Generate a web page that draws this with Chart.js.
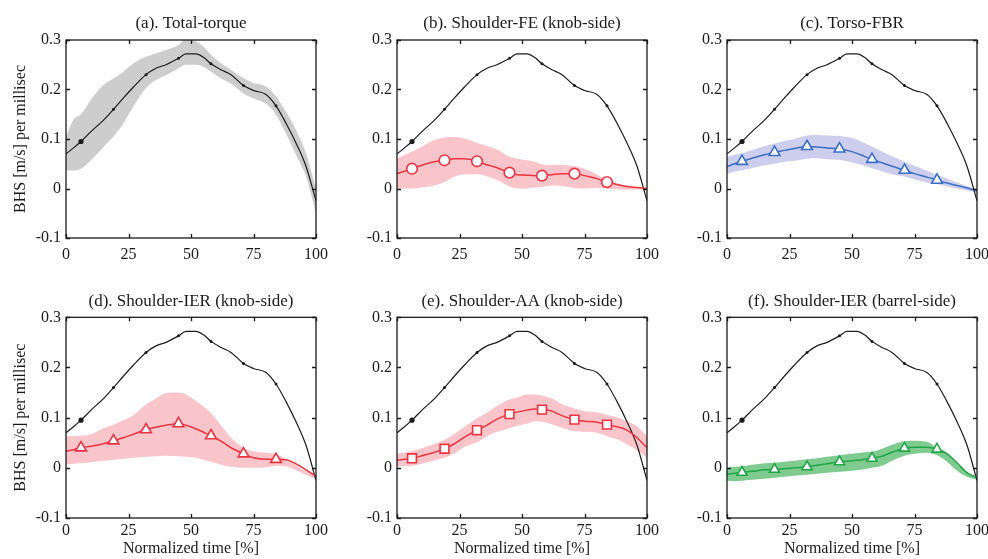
<!DOCTYPE html>
<html>
<head>
<meta charset="utf-8">
<script src="https://cdn.jsdelivr.net/npm/chart.js@4/dist/chart.umd.min.js"></script>
<style>
  html, body { margin: 0; padding: 0; background: #fff; overflow: hidden; width: 988px; height: 559px; }
  .cell { position: absolute; }
</style>
</head>
<body>
<div class="cell" style="left:0px;top:0px"><canvas id="c0" width="328" height="280"></canvas></div>
<div class="cell" style="left:331px;top:0px"><canvas id="c1" width="328" height="280"></canvas></div>
<div class="cell" style="left:661px;top:0px"><canvas id="c2" width="328" height="280"></canvas></div>
<div class="cell" style="left:0px;top:280px"><canvas id="c3" width="328" height="279"></canvas></div>
<div class="cell" style="left:331px;top:280px"><canvas id="c4" width="328" height="279"></canvas></div>
<div class="cell" style="left:661px;top:280px"><canvas id="c5" width="328" height="279"></canvas></div>
<script>
// ---------------- data ----------------
const time = [0,3,6,10,15,19,23,27,32,36,40,45,48,52,55,58,62,66,71,75,80,84,88,92,96,100];
const markerTimes = [6,19,32,45,58,71,84];

const totalMean  = [0.070,0.082,0.095,0.115,0.138,0.160,0.183,0.205,0.230,0.243,0.250,0.263,0.272,0.272,0.265,0.252,0.240,0.230,0.208,0.198,0.190,0.167,0.132,0.092,0.045,-0.025];
const totalUpper = [0.105,0.139,0.150,0.180,0.209,0.222,0.236,0.253,0.266,0.273,0.280,0.290,0.303,0.297,0.287,0.270,0.253,0.240,0.223,0.213,0.206,0.186,0.155,0.118,0.071,0.000];
const totalLower = [0.037,0.036,0.040,0.057,0.084,0.105,0.132,0.166,0.203,0.219,0.229,0.243,0.250,0.250,0.246,0.236,0.222,0.212,0.192,0.182,0.171,0.149,0.111,0.068,0.024,-0.050];

const feMean  = [0.030,0.035,0.040,0.047,0.054,0.057,0.060,0.060,0.055,0.048,0.042,0.032,0.028,0.027,0.026,0.026,0.028,0.030,0.030,0.026,0.020,0.013,0.008,0.004,0.002,0.000];
const feUpper = [0.060,0.068,0.074,0.085,0.098,0.103,0.104,0.101,0.092,0.086,0.079,0.064,0.060,0.057,0.054,0.049,0.047,0.048,0.045,0.040,0.028,0.017,0.010,0.006,0.003,0.001];
const feLower = [0.000,0.000,0.000,0.002,0.006,0.013,0.024,0.029,0.029,0.025,0.017,0.004,0.000,0.000,0.002,0.003,0.006,0.005,0.001,0.000,0.001,0.000,-0.002,-0.002,-0.002,-0.002];

const fbrMean  = [0.044,0.050,0.055,0.061,0.068,0.073,0.077,0.081,0.085,0.084,0.082,0.080,0.077,0.071,0.065,0.059,0.052,0.045,0.037,0.030,0.023,0.017,0.011,0.006,0.001,-0.005];
const fbrUpper = [0.064,0.068,0.071,0.078,0.086,0.091,0.096,0.100,0.107,0.108,0.107,0.106,0.104,0.099,0.092,0.085,0.075,0.065,0.054,0.046,0.036,0.028,0.020,0.012,0.005,-0.001];
const fbrLower = [0.030,0.034,0.037,0.041,0.047,0.050,0.054,0.056,0.060,0.061,0.059,0.058,0.055,0.050,0.046,0.041,0.035,0.029,0.024,0.018,0.012,0.009,0.004,0.000,-0.004,-0.008];

const ierKnobMean  = [0.033,0.036,0.040,0.043,0.048,0.054,0.060,0.067,0.076,0.081,0.085,0.088,0.085,0.078,0.071,0.064,0.053,0.040,0.028,0.020,0.017,0.017,0.016,0.008,-0.004,-0.017];
const ierKnobUpper = [0.063,0.063,0.064,0.067,0.079,0.086,0.095,0.105,0.126,0.138,0.149,0.150,0.146,0.133,0.122,0.109,0.085,0.060,0.040,0.033,0.030,0.027,0.017,0.005,-0.007,-0.013];
const ierKnobLower = [0.007,0.008,0.009,0.011,0.014,0.016,0.018,0.020,0.022,0.023,0.024,0.023,0.022,0.020,0.016,0.012,0.006,0.002,0.000,0.000,0.001,0.004,0.003,-0.005,-0.014,-0.022];

const aaMean  = [0.015,0.017,0.019,0.024,0.031,0.038,0.048,0.061,0.075,0.085,0.097,0.107,0.111,0.115,0.117,0.116,0.113,0.104,0.096,0.093,0.091,0.086,0.082,0.075,0.060,0.040];
const aaUpper = [0.028,0.030,0.033,0.039,0.048,0.056,0.068,0.082,0.099,0.110,0.123,0.136,0.140,0.146,0.146,0.144,0.138,0.127,0.118,0.113,0.111,0.106,0.101,0.093,0.083,0.063];
const aaLower = [0.003,0.003,0.004,0.008,0.015,0.020,0.029,0.042,0.051,0.063,0.072,0.079,0.084,0.088,0.093,0.092,0.087,0.080,0.073,0.072,0.070,0.063,0.057,0.047,0.035,0.020];

const ierBarrelMean  = [-0.013,-0.011,-0.009,-0.007,-0.004,-0.003,-0.002,0.000,0.002,0.005,0.008,0.012,0.013,0.015,0.017,0.019,0.023,0.031,0.039,0.041,0.041,0.037,0.028,0.010,-0.010,-0.020];
const ierBarrelUpper = [0.000,0.002,0.003,0.006,0.009,0.010,0.012,0.014,0.017,0.019,0.022,0.025,0.027,0.029,0.031,0.032,0.038,0.046,0.053,0.054,0.052,0.040,0.030,0.010,-0.008,-0.018];
const ierBarrelLower = [-0.026,-0.027,-0.026,-0.024,-0.022,-0.020,-0.018,-0.016,-0.014,-0.012,-0.010,-0.008,-0.007,-0.005,-0.003,0.000,0.004,0.014,0.024,0.028,0.030,0.025,0.012,-0.006,-0.018,-0.024];

const panelTitles = ['(a). Total-torque','(b). Shoulder-FE (knob-side)','(c). Torso-FBR',
                     '(d). Shoulder-IER (knob-side)','(e). Shoulder-AA (knob-side)','(f). Shoulder-IER (barrel-side)'];
const xTickValues = [0,25,50,75,100];
const xTickLabels = ['0','25','50','75','100'];
const yTickValues = [-0.1,0,0.1,0.2,0.3];
const yTickLabels = ['-0.1','0','0.1','0.2','0.3'];
const yAxisTitle = 'BHS [m/s] per millisec';
const xAxisTitle = 'Normalized time [%]';

// ---------------- drawing ----------------
const FONT = "'Liberation Serif', 'Times New Roman', serif";
const pts = arr => arr.map((v, i) => ({x: time[i], y: v}));
const isMarker = ctx => ctx.raw && markerTimes.includes(ctx.raw.x);

const framePlugin = {
  id: 'frame',
  afterDatasetsDraw(chart) {
    const {ctx, chartArea: {left, right, top, bottom}, scales: {x, y}} = chart;
    ctx.save();
    ctx.strokeStyle = '#1a1a1a';
    ctx.lineWidth = 1.3;
    ctx.strokeRect(left, top, right - left, bottom - top);
    ctx.beginPath();
    const L = 4;
    x.ticks.forEach(t => {
      const px = Math.round(x.getPixelForValue(t.value)) + 0.5;
      ctx.moveTo(px, bottom); ctx.lineTo(px, bottom - L);
      ctx.moveTo(px, top); ctx.lineTo(px, top + L);
    });
    y.ticks.forEach(t => {
      const py = Math.round(y.getPixelForValue(t.value)) + 0.5;
      ctx.moveTo(left, py); ctx.lineTo(left + L, py);
      ctx.moveTo(right, py); ctx.lineTo(right - L, py);
    });
    ctx.stroke();
    ctx.restore();
  }
};

function blackLine() {
  return {
    data: pts(totalMean), borderColor: '#1c1c1c', borderWidth: 1.2,
    cubicInterpolationMode: 'monotone',
    pointStyle: 'circle',
    pointRadius: c => (c.raw && c.raw.x === 6) ? 2.6 : (isMarker(c) ? 1.5 : 0),
    pointBackgroundColor: '#1c1c1c', pointBorderColor: '#1c1c1c', pointBorderWidth: 0,
    fill: false
  };
}
function meanLine(arr, color, style, radius) {
  return {
    data: pts(arr), borderColor: color, borderWidth: 1.5,
    cubicInterpolationMode: 'monotone',
    pointStyle: style,
    pointRadius: c => isMarker(c) ? radius : 0,
    pointBackgroundColor: '#ffffff', pointBorderColor: color, pointBorderWidth: 1.6,
    fill: false
  };
}
function band(upper, lower, color) {
  return [
    {data: pts(upper), borderWidth: 0, borderColor: 'rgba(0,0,0,0)', pointRadius: 0,
     cubicInterpolationMode: 'monotone', backgroundColor: color, fill: '+1'},
    {data: pts(lower), borderWidth: 0, borderColor: 'rgba(0,0,0,0)', pointRadius: 0,
     cubicInterpolationMode: 'monotone', fill: false}
  ];
}

const panels = [
  {title: panelTitles[0], row: 0, col: 0, datasets: [blackLine(), ...band(totalUpper, totalLower, '#cdcdcd')]},
  {title: panelTitles[1], row: 0, col: 1, datasets: [meanLine(feMean, '#ec3440', 'circle', 5.3), blackLine(), ...band(feUpper, feLower, '#f9c4ca')]},
  {title: panelTitles[2], row: 0, col: 2, datasets: [meanLine(fbrMean, '#3a6ec2', 'triangle', 6.2), blackLine(), ...band(fbrUpper, fbrLower, '#cdcdee')]},
  {title: panelTitles[3], row: 1, col: 0, datasets: [meanLine(ierKnobMean, '#ec3440', 'triangle', 6.2), blackLine(), ...band(ierKnobUpper, ierKnobLower, '#f9c4ca')]},
  {title: panelTitles[4], row: 1, col: 1, datasets: [meanLine(aaMean, '#ec3440', 'rect', 6.2), blackLine(), ...band(aaUpper, aaLower, '#f9c4ca')]},
  {title: panelTitles[5], row: 1, col: 2, datasets: [meanLine(ierBarrelMean, '#22a548', 'triangle', 5.8), blackLine(), ...band(ierBarrelUpper, ierBarrelLower, '#7fcb8f')]}
];

panels.forEach((p, i) => {
  const top = p.row === 0;
  const showY = p.col === 0;
  const showX = !top;
  new Chart(document.getElementById('c' + i), {
    type: 'line',
    data: {datasets: p.datasets},
    plugins: [framePlugin],
    options: {
      responsive: false,
      animation: false,
      devicePixelRatio: 1,
      layout: {padding: {left: 0, right: 12, top: 0, bottom: 0}},
      plugins: {
        legend: {display: false},
        tooltip: {enabled: false},
        title: {
          display: true, text: p.title, color: '#1a1a1a', fullSize: false,
          font: {family: FONT, size: 17, weight: 'normal', lineHeight: 1.2},
          padding: top ? {top: 13, bottom: 6.6} : {top: 11.5, bottom: 5.4}
        }
      },
      scales: {
        x: {
          type: 'linear', min: 0, max: 100,
          afterBuildTicks: a => { a.ticks = xTickValues.map(v => ({value: v})); },
          afterFit: s => { s.height = top ? 42 : 41; s.paddingLeft = 0; s.paddingRight = 0; },
          grid: {display: false, drawTicks: false},
          border: {display: false},
          ticks: {color: '#1a1a1a', padding: top ? 6.8 : 3.5, maxRotation: 0,
                  font: {family: FONT, size: 16, lineHeight: 1.2},
                  callback: (v, idx) => xTickLabels[idx]},
          title: {display: showX, text: xAxisTitle, color: '#1a1a1a',
                  font: {family: FONT, size: 16, lineHeight: 1.2}, padding: {top: 0, bottom: 0.8}}
        },
        y: {
          type: 'linear', min: -0.1, max: 0.3,
          afterBuildTicks: a => { a.ticks = yTickValues.map(v => ({value: v})); },
          afterFit: s => { s.width = 66; s.paddingTop = 0; s.paddingBottom = 0; },
          grid: {display: false, drawTicks: false},
          border: {display: false},
          ticks: {color: '#1a1a1a', padding: 5,
                  font: {family: FONT, size: 16, lineHeight: 1.2},
                  callback: (v, idx) => yTickLabels[idx]},
          title: {display: showY, text: yAxisTitle, color: '#1a1a1a',
                  font: {family: FONT, size: 16, lineHeight: 1.2}, padding: {top: 11, bottom: 0}}
        }
      }
    }
  });
});
</script>
</body>
</html>
